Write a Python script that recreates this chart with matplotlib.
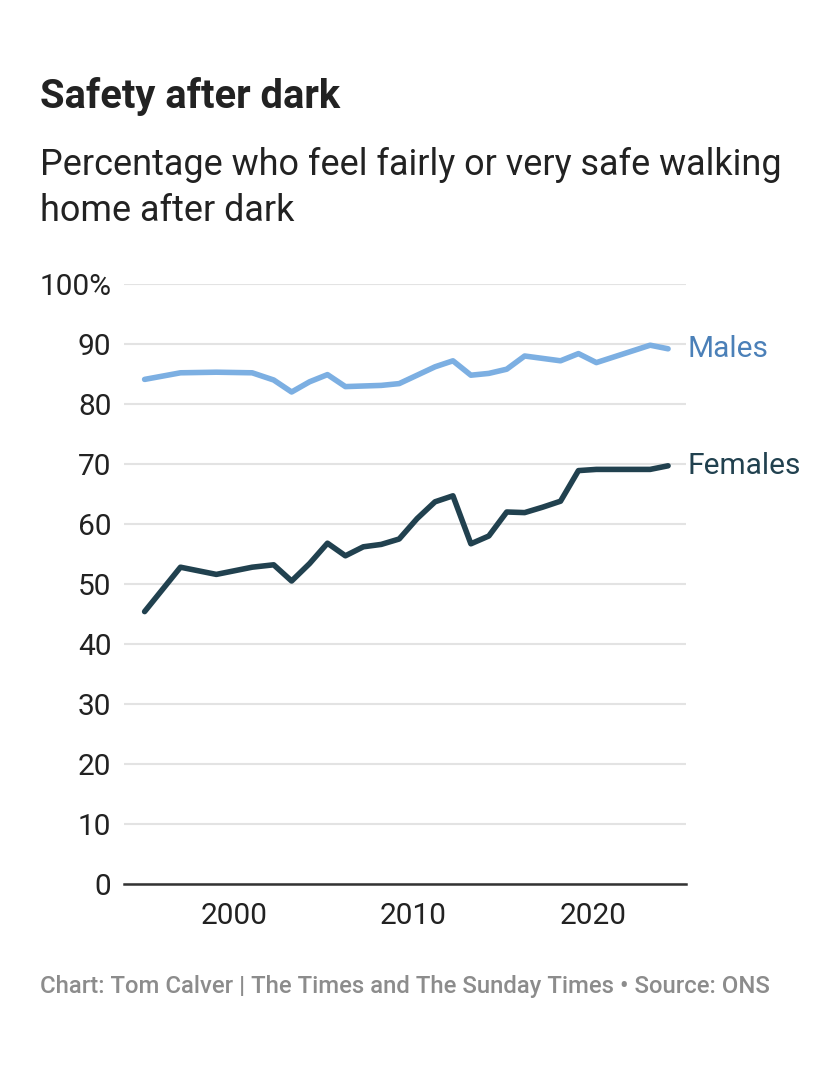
import matplotlib
matplotlib.use("Agg")
import matplotlib.pyplot as plt

plt.rcParams["font.family"] = ["Roboto", "DejaVu Sans"]

text_color = "#222222"
grid_color = "#e3e3e3"
males_color = "#7cafe2"
males_label_color = "#4b80b8"
females_color = "#21414f"
footer_color = "#8c8c8c"

years = [1995, 1997, 1999, 2001, 2002.2, 2003.2, 2004.2, 2005.2, 2006.2,
         2007.2, 2008.2, 2009.2, 2010.2, 2011.2, 2012.2, 2013.2, 2014.2,
         2015.2, 2016.2, 2017.2, 2018.2, 2019.2, 2020.2, 2023.2, 2024.2]
males = [84.1, 85.2, 85.3, 85.2, 84.0, 82.0, 83.7, 84.9, 82.9,
         83.0, 83.1, 83.4, 84.8, 86.2, 87.2, 84.8, 85.1,
         85.8, 88.0, 87.6, 87.2, 88.4, 86.9, 89.8, 89.2]
females = [45.4, 52.8, 51.6, 52.8, 53.2, 50.5, 53.4, 56.8, 54.7,
           56.2, 56.6, 57.5, 60.9, 63.7, 64.7, 56.7, 58.0,
           62.0, 61.9, 62.8, 63.8, 68.9, 69.1, 69.1, 69.7]

y_ticks = list(range(0, 101, 10))
y_tick_labels = [str(v) for v in y_ticks[:-1]] + ["100%"]
x_ticks = [2000, 2010, 2020]

W, H = 840, 1092
fig = plt.figure(figsize=(W / 100, H / 100), dpi=100, facecolor="white")
ax = fig.add_axes([124 / W, (H - 884) / H, 562 / W, 600 / H])

ax.plot(years, males, color=males_color, linewidth=4.0, solid_capstyle="round", zorder=3)
ax.plot(years, females, color=females_color, linewidth=4.0, solid_capstyle="round", zorder=3)

ax.set_xlim(1993.85, 2025.2)
ax.set_ylim(0, 100)
ax.set_xticks(x_ticks)
ax.set_yticks(y_ticks)
ax.set_yticklabels(y_tick_labels)
ax.grid(axis="y", color=grid_color, linewidth=1.5, zorder=0)
ax.set_axisbelow(True)
for side in ["top", "right", "left"]:
    ax.spines[side].set_visible(False)
ax.spines["bottom"].set_color("#333333")
ax.spines["bottom"].set_linewidth(1.8)
ax.spines["bottom"].set_zorder(4)
ax.tick_params(axis="both", length=0, labelsize=21.5, labelcolor=text_color)
ax.tick_params(axis="x", pad=13)
ax.tick_params(axis="y", pad=9)

ax.annotate("Males", (years[-1], males[-1]), xytext=(14, 0), textcoords="offset points",
            va="center", ha="left", fontsize=21.5, color=males_label_color)
ax.annotate("Females", (years[-1], females[-1]), xytext=(14, 0), textcoords="offset points",
            va="center", ha="left", fontsize=21.5, color=females_color)

fig.text(40 / W, 1 - 97 / H, "Safety after dark", fontsize=28.7, fontweight="bold",
         color=text_color, va="center", ha="left")
fig.text(40 / W, 1 - 165 / H, "Percentage who feel fairly or very safe walking",
         fontsize=25.9, color=text_color, va="center", ha="left")
fig.text(40 / W, 1 - 211 / H, "home after dark",
         fontsize=25.9, color=text_color, va="center", ha="left")
fig.text(40 / W, 1 - 986 / H,
         "Chart: Tom Calver | The Times and The Sunday Times \u2022 Source: ONS",
         fontsize=17.2, fontweight="medium", color=footer_color, va="center", ha="left")

fig.savefig("out.png", dpi=100, facecolor="white")
